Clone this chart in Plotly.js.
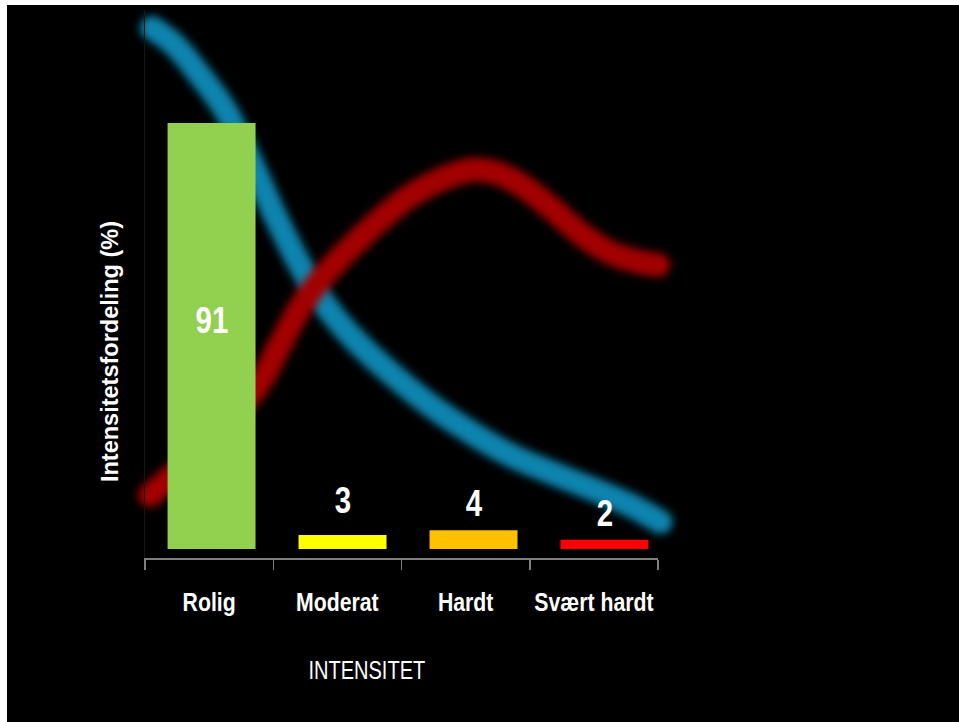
<!DOCTYPE html>
<html>
<head>
<meta charset="utf-8">
<script src="https://cdn.plot.ly/plotly-3.0.1.min.js"></script>
<style>
  html, body { margin: 0; padding: 0; background: #ffffff; width: 959px; height: 722px; overflow: hidden; }
  #chart { position: absolute; left: 7px; top: 5px; width: 952px; height: 717px; }
</style>
</head>
<body>
<div id="chart"></div>
<script>
// ---- data ----
const categories = ['Rolig', 'Moderat', 'Hardt', 'Svært hardt'];
const shares = [91, 3, 4, 2];
const barColors = ['#92d050', '#ffff00', '#ffc000', '#ff0000'];

// decorative background curves (0-100 scale across the plot area)
const blueCurveX = [1.4, 5.8, 10.7, 15.6, 20.5, 25.3, 30.2, 35.1, 40.9, 47.8, 55.6, 63.4, 71.2, 78.9, 86.7, 94.5, 100.5];
const blueCurveY = [96.7, 93.6, 88.1, 81.8, 72.6, 62.6, 53.5, 46.2, 39.8, 33.8, 27.9, 23.0, 18.8, 15.7, 12.8, 9.7, 6.6];
const redCurveX = [1.0, 4.9, 12.7, 22.4, 26.3, 30.2, 34.1, 40.0, 45.8, 51.7, 57.5, 63.4, 68.2, 73.1, 78.9, 84.8, 90.6, 96.5, 100.0];
const redCurveY = [11.5, 14.6, 21.5, 32.1, 38.9, 45.6, 50.7, 56.6, 61.7, 66.1, 69.0, 70.8, 70.4, 68.2, 64.1, 59.3, 55.8, 54.0, 53.5];

const sans = 'Liberation Sans, Arial, sans-serif';

// layout helpers (bar placement drifts slightly right across the categories)
const BAR_W = 0.686;
const CAT_PX = 128.25;
const barOffsets = categories.map((c, i) => -0.324 + 0.0213 * i);

const curveBlue = {
  x: blueCurveX, y: blueCurveY, xaxis: 'x', yaxis: 'y',
  type: 'scatter', mode: 'lines', cliponaxis: false,
  line: { color: '#0c84ae', width: 24, shape: 'spline', smoothing: 1 },
  hoverinfo: 'skip', showlegend: false
};
const curveRed = {
  x: redCurveX, y: redCurveY, xaxis: 'x', yaxis: 'y',
  type: 'scatter', mode: 'lines', cliponaxis: false,
  line: { color: '#a30000', width: 24, shape: 'spline', smoothing: 1 },
  hoverinfo: 'skip', showlegend: false
};
const bars = {
  x: categories, y: shares, xaxis: 'x2', yaxis: 'y2',
  type: 'bar', width: BAR_W, offset: barOffsets,
  marker: { color: barColors, line: { width: 0 } },
  hoverinfo: 'x+y', showlegend: false
};

const annotations = shares.map((v, i) => {
  const inside = v > 50;
  return {
    x: categories[i], xref: 'x2',
    y: inside ? v / 2 : v, yref: 'y2',
    text: String(v), showarrow: false,
    xshift: (barOffsets[i] + BAR_W / 2) * CAT_PX,
    yshift: inside ? 16 : (v === 3 ? 12 : 4),
    yanchor: inside ? 'middle' : 'bottom',
    font: { family: sans, size: 36, color: '#ffffff', weight: 'bold' }
  };
});
annotations.push({
  xref: 'paper', yref: 'paper', x: 0.433, y: -0.204,
  text: 'INTENSITET', showarrow: false, xanchor: 'center', yanchor: 'middle',
  font: { family: sans, size: 26, color: '#ffffff' }
});
annotations.push({
  xref: 'paper', yref: 'paper', x: -0.068, y: 0.376,
  text: 'Intensitetsfordeling (%)', showarrow: false, textangle: -90,
  xanchor: 'center', yanchor: 'middle',
  font: { family: sans, size: 23.5, color: '#ffffff', weight: 'bold' }
});

const layout = {
  width: 952, height: 717,
  margin: { l: 138, r: 301, t: 5, b: 164 },
  paper_bgcolor: '#000000', plot_bgcolor: 'rgba(0,0,0,0)',
  xaxis: { range: [0, 100], visible: false, fixedrange: true },
  yaxis: { range: [0, 100], visible: false, fixedrange: true },
  xaxis2: {
    overlaying: 'x', anchor: 'y2', side: 'bottom', type: 'category',
    range: [-0.5, 3.5], tickson: 'boundaries', tickangle: 0,
    ticks: 'outside', ticklen: 10, tickwidth: 1.5, tickcolor: '#7f7f7f',
    showline: true, linecolor: '#7f7f7f', linewidth: 1.5,
    showgrid: false, zeroline: false,
    tickfont: { family: sans, size: 25, color: '#ffffff', weight: 'bold' },
    ticklabelstandoff: 21
  },
  yaxis2: {
    overlaying: 'y', anchor: 'x2', range: [-1.92, 115.15],
    showgrid: false, zeroline: false, showticklabels: false, ticks: '',
    showline: true, linecolor: '#161616', linewidth: 1
  },
  annotations: annotations,
  showlegend: false
};

function squeeze(el, k) {
  const w = el.getComputedTextLength();
  if (w > 0) {
    el.setAttribute('textLength', (w * k).toFixed(1));
    el.setAttribute('lengthAdjust', 'spacingAndGlyphs');
  }
}

Plotly.newPlot('chart', [curveBlue, curveRed, bars], layout, { displayModeBar: false, staticPlot: true }).then(gd => {
  const svg = gd.querySelector('svg.main-svg');
  const ns = 'http://www.w3.org/2000/svg';
  let defs = svg.querySelector('defs');
  if (!defs) { defs = document.createElementNS(ns, 'defs'); svg.insertBefore(defs, svg.firstChild); }
  const f = document.createElementNS(ns, 'filter');
  f.setAttribute('id', 'softblur');
  f.setAttribute('filterUnits', 'userSpaceOnUse');
  f.setAttribute('x', '-300'); f.setAttribute('y', '-300');
  f.setAttribute('width', '1600'); f.setAttribute('height', '1400');
  const g = document.createElementNS(ns, 'feGaussianBlur');
  g.setAttribute('stdDeviation', '4');
  f.appendChild(g);
  defs.appendChild(f);
  gd.querySelectorAll('.scatterlayer .trace path.js-line').forEach(p => {
    let el = p;
    while (el && el !== svg) {
      if (el.removeAttribute) el.removeAttribute('clip-path');
      if (el.style) el.style.clipPath = 'none';
      el = el.parentNode;
    }
    p.setAttribute('filter', 'url(#softblur)');
    p.style.strokeLinecap = 'round';
  });
  // condensed look of the original lettering
  gd.querySelectorAll('.x2tick text, .xtick text').forEach(t => squeeze(t, 0.85));
  gd.querySelectorAll('.annotation-text').forEach(t => {
    const txt = t.textContent;
    if (txt === 'Intensitetsfordeling (%)') return;
    squeeze(t, txt === 'INTENSITET' ? 0.77 : 0.82);
  });
});
</script>
</body>
</html>
